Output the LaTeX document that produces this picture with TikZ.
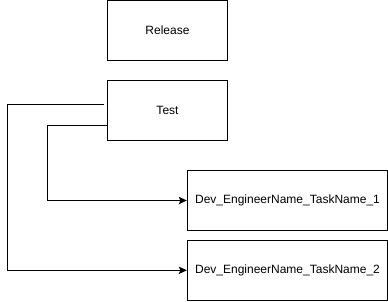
\documentclass[tikz,border=0pt]{standalone}
\usepackage{fontspec}
\setmainfont{Liberation Sans}
\usetikzlibrary{arrows.meta}
\begin{document}
\begin{tikzpicture}[x=0.75pt,y=-0.75pt,
  box/.style={draw=black,line width=0.75pt,minimum width=120.4*0.75pt,minimum height=60*0.75pt,inner sep=0pt,font=\fontsize{9}{11}\selectfont},
  wide/.style={box,minimum width=200.4*0.75pt},
  conn/.style={draw=black,line width=0.75pt,-{Stealth[length=6pt,width=5.5pt,inset=1.2pt]}}]
\useasboundingbox (0,0) rectangle (388,301);
\node[box] (release) at (167.5,30.3) {Release};
\node[box] (test) at (167.5,110.3) {Test};
\node[wide] (dev1) at (287.5,200.5) {Dev\_EngineerName\_TaskName\_1};
\node[wide] (dev2) at (287.5,270.3) {Dev\_EngineerName\_TaskName\_2};
\coordinate (s2) at (104.3,104.3);
\coordinate (s1) at (test.west |- 0,125.7);
\draw[conn] (s1) -- (47.7,125.7) |- (dev1.west);
\draw[conn] (s2) -- (7.7,104.3) |- (dev2.west);
\end{tikzpicture}
\end{document}
